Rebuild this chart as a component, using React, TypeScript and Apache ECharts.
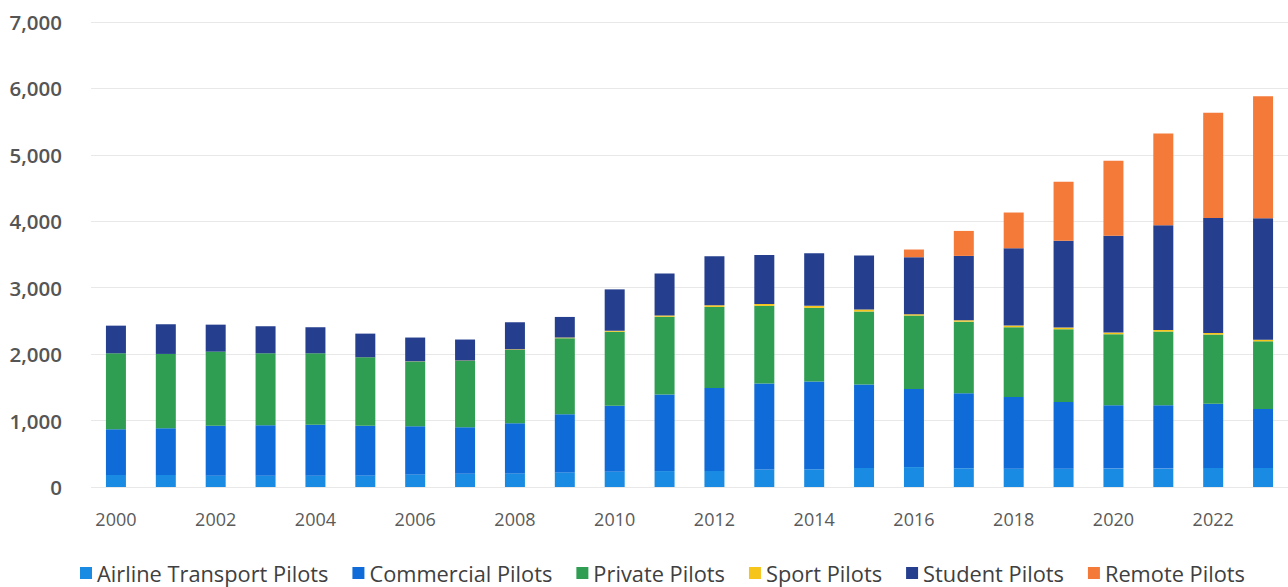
import React, { useEffect, useRef } from "react";
import * as echarts from "echarts";

const years = [
  "2000", "2001", "2002", "2003", "2004", "2005", "2006", "2007", "2008", "2009", "2010", "2011",
  "2012", "2013", "2014", "2015", "2016", "2017", "2018", "2019", "2020", "2021", "2022", "2023",
];

const airlineTransport = [181, 181, 170, 170, 170, 175, 190, 200, 205, 220, 229, 240, 241, 264, 267, 286, 300, 282, 276, 276, 277, 277, 286, 286];
const commercial = [688, 703, 753, 759, 768, 748, 723, 699, 755, 875, 994, 1153, 1250, 1295, 1320, 1256, 1176, 1129, 1079, 1004, 953, 953, 968, 889];
const privatePilots = [1144, 1119, 1115, 1084, 1075, 1029, 976, 1000, 1105, 1145, 1114, 1170, 1220, 1168, 1110, 1100, 1105, 1078, 1050, 1095, 1070, 1110, 1040, 1018];
const sport = [0, 0, 0, 0, 0, 1, 3, 5, 8, 10, 15, 20, 25, 28, 30, 30, 20, 21, 25, 25, 25, 25, 25, 25];
const student = [416, 447, 406, 407, 392, 356, 358, 316, 407, 310, 623, 632, 738, 737, 793, 813, 858, 969, 1164, 1306, 1457, 1577, 1732, 1828];
const remote = [0, 0, 0, 0, 0, 0, 0, 0, 0, 0, 0, 0, 0, 0, 0, 0, 116, 376, 538, 888, 1129, 1381, 1582, 1837];

const yTicks = [0, 1000, 2000, 3000, 4000, 5000, 6000, 7000];

const seriesDefs = [
  { name: "Airline Transport Pilots", data: airlineTransport, color: "#1a8be2" },
  { name: "Commercial Pilots", data: commercial, color: "#0e6bd8" },
  { name: "Private Pilots", data: privatePilots, color: "#2f9e52" },
  { name: "Sport Pilots", data: sport, color: "#f6c51c" },
  { name: "Student Pilots", data: student, color: "#253f8e" },
  { name: "Remote Pilots", data: remote, color: "#f47a3a" },
];

export default function App() {
  const ref = useRef<HTMLDivElement>(null);
  useEffect(() => {
    if (!ref.current) return;
    const chart = echarts.init(ref.current, undefined, { renderer: "svg" });
    chart.setOption({
      animation: false,
      backgroundColor: "#ffffff",
      textStyle: { fontFamily: "Open Sans" },
      grid: { left: 91, right: -10, top: 22, bottom: 100, containLabel: false },
      legend: {
        left: 75,
        top: 557,
        padding: 5,
        icon: "rect",
        itemWidth: 12,
        itemHeight: 12,
        itemGap: 24,
        textStyle: { fontSize: 21.8, color: "#404040", fontFamily: "Open Sans", fontWeight: 500 },
        data: seriesDefs.map((s) => s.name),
      },
      xAxis: {
        type: "category",
        data: years,
        axisLine: { show: false },
        axisTick: { show: false },
        axisLabel: {
          interval: 1,
          margin: 23,
          fontSize: 18,
          color: "#5a5a5a",
          fontFamily: "Open Sans",
        },
      },
      yAxis: {
        type: "value",
        min: yTicks[0],
        max: yTicks[yTicks.length - 1],
        interval: 1000,
        axisLine: { show: false },
        axisTick: { show: false },
        splitLine: { lineStyle: { color: "#e8e8e8", width: 1 } },
        axisLabel: {
          margin: 29,
          fontSize: 20.5,
          color: "#555555",
          fontWeight: 600,
          fontFamily: "Open Sans",
          formatter: (v: number) => v.toLocaleString("en-US"),
        },
      },
      series: seriesDefs.map((s) => ({
        name: s.name,
        type: "bar",
        stack: "total",
        barWidth: 20,
        data: s.data,
        itemStyle: { color: s.color },
      })),
    });
    return () => chart.dispose();
  }, []);
  return (
    <div
      ref={ref}
      style={{ position: "fixed", left: 0, top: 0, width: 1288, height: 587 }}
    />
  );
}
